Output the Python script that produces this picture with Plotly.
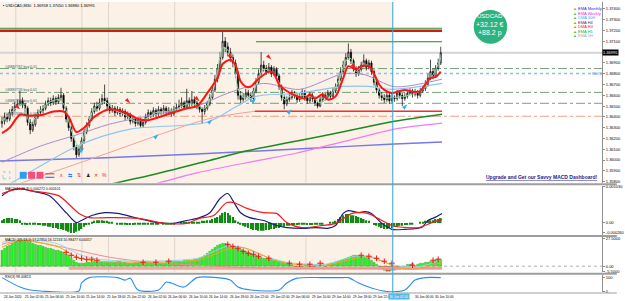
import plotly.graph_objects as go

# ---------------- data ----------------
idx = list(range(172))
time_labels = ["24 Jun 2020", "25 Jun 02:00", "25 Jun 06:00", "25 Jun 10:00", "25 Jun 14:00",
               "25 Jun 18:00", "25 Jun 22:00", "26 Jun 02:00", "26 Jun 06:00", "26 Jun 10:00",
               "26 Jun 14:00", "26 Jun 18:00", "26 Jun 22:00", "29 Jun 02:00", "29 Jun 06:00",
               "29 Jun 10:00", "29 Jun 14:00", "29 Jun 18:00", "29 Jun 22:00", "30 Jun 02:00",
               "30 Jun 06:00", "30 Jun 10:00"]
time_label_idx = [0, 8, 16, 24, 32, 40, 48, 56, 64, 72, 80, 88, 96, 104, 112, 120, 128, 136, 144, 152, 160, 168]

opens = [1.3634, 1.3636, 1.3640, 1.3638, 1.3644, 1.3647, 1.3650, 1.3652, 1.3655, 1.3651,
         1.3648, 1.3635, 1.3628, 1.3633, 1.3640, 1.3644, 1.3646, 1.3648, 1.3652, 1.3655,
         1.3653, 1.3657, 1.3654, 1.3658, 1.3660, 1.3648, 1.3638, 1.3630, 1.3620, 1.3612,
         1.3605, 1.3610, 1.3618, 1.3626, 1.3632, 1.3638, 1.3645, 1.3650, 1.3648, 1.3653,
         1.3657, 1.3655, 1.3650, 1.3646, 1.3648, 1.3644, 1.3647, 1.3643, 1.3645, 1.3640,
         1.3642, 1.3636, 1.3638, 1.3634, 1.3637, 1.3632, 1.3635, 1.3640, 1.3644, 1.3642,
         1.3646, 1.3643, 1.3647, 1.3645, 1.3648, 1.3644, 1.3646, 1.3643, 1.3647, 1.3649,
         1.3650, 1.3653, 1.3649, 1.3655, 1.3652, 1.3656, 1.3653, 1.3650, 1.3647, 1.3645,
         1.3648, 1.3652, 1.3658, 1.3665, 1.3675, 1.3685, 1.3695, 1.3710, 1.3705, 1.3700,
         1.3695, 1.3690, 1.3680, 1.3660, 1.3656, 1.3658, 1.3662, 1.3660, 1.3657, 1.3664,
         1.3672, 1.3680, 1.3688, 1.3685, 1.3682, 1.3686, 1.3680, 1.3684, 1.3678, 1.3668,
         1.3658, 1.3652, 1.3656, 1.3658, 1.3662, 1.3660, 1.3656, 1.3659, 1.3663, 1.3658,
         1.3655, 1.3660, 1.3657, 1.3653, 1.3650, 1.3656, 1.3660, 1.3658, 1.3662, 1.3659,
         1.3664, 1.3668, 1.3675, 1.3682, 1.3688, 1.3695, 1.3700, 1.3692, 1.3685, 1.3680,
         1.3684, 1.3688, 1.3692, 1.3686, 1.3690, 1.3682, 1.3672, 1.3665, 1.3660, 1.3658,
         1.3656, 1.3660, 1.3655, 1.3658, 1.3657, 1.3662, 1.3660, 1.3657, 1.3659, 1.3662,
         1.3664, 1.3661, 1.3663, 1.3660, 1.3664, 1.3666, 1.3670, 1.3676, 1.3682, 1.3678,
         1.3685, 1.3690]
highs = [1.3640, 1.3644, 1.3643, 1.3647, 1.3650, 1.3654, 1.3656, 1.3664, 1.3658, 1.3653,
         1.3650, 1.3638, 1.3636, 1.3643, 1.3647, 1.3650, 1.3651, 1.3655, 1.3658, 1.3658,
         1.3660, 1.3659, 1.3661, 1.3667, 1.3662, 1.3650, 1.3641, 1.3632, 1.3623, 1.3614,
         1.3613, 1.3621, 1.3629, 1.3635, 1.3641, 1.3648, 1.3653, 1.3654, 1.3657, 1.3661,
         1.3670, 1.3658, 1.3652, 1.3651, 1.3650, 1.3650, 1.3649, 1.3648, 1.3647, 1.3645,
         1.3644, 1.3641, 1.3640, 1.3640, 1.3639, 1.3638, 1.3643, 1.3647, 1.3646, 1.3649,
         1.3648, 1.3650, 1.3649, 1.3651, 1.3650, 1.3649, 1.3648, 1.3650, 1.3652, 1.3656,
         1.3658, 1.3655, 1.3666, 1.3658, 1.3664, 1.3659, 1.3655, 1.3652, 1.3649, 1.3651,
         1.3655, 1.3661, 1.3668, 1.3679, 1.3689, 1.3700, 1.3719, 1.3714, 1.3709, 1.3704,
         1.3698, 1.3693, 1.3682, 1.3664, 1.3662, 1.3666, 1.3665, 1.3663, 1.3667, 1.3676,
         1.3684, 1.3700, 1.3692, 1.3688, 1.3690, 1.3688, 1.3687, 1.3686, 1.3680, 1.3670,
         1.3660, 1.3659, 1.3662, 1.3665, 1.3664, 1.3662, 1.3662, 1.3666, 1.3665, 1.3660,
         1.3663, 1.3662, 1.3659, 1.3655, 1.3659, 1.3663, 1.3662, 1.3665, 1.3664, 1.3667,
         1.3671, 1.3678, 1.3686, 1.3692, 1.3699, 1.3708, 1.3703, 1.3694, 1.3687, 1.3687,
         1.3691, 1.3698, 1.3694, 1.3693, 1.3692, 1.3684, 1.3674, 1.3667, 1.3663, 1.3661,
         1.3663, 1.3662, 1.3661, 1.3660, 1.3665, 1.3664, 1.3662, 1.3662, 1.3665, 1.3667,
         1.3666, 1.3666, 1.3665, 1.3667, 1.3669, 1.3674, 1.3680, 1.3693, 1.3685, 1.3688,
         1.3694, 1.3705]
lows = [1.3630, 1.3633, 1.3635, 1.3636, 1.3641, 1.3645, 1.3648, 1.3650, 1.3648, 1.3644,
        1.3632, 1.3624, 1.3626, 1.3631, 1.3638, 1.3642, 1.3643, 1.3646, 1.3650, 1.3650,
        1.3651, 1.3651, 1.3652, 1.3655, 1.3646, 1.3635, 1.3627, 1.3617, 1.3609, 1.3601,
        1.3603, 1.3608, 1.3615, 1.3624, 1.3630, 1.3636, 1.3643, 1.3645, 1.3646, 1.3651,
        1.3652, 1.3647, 1.3643, 1.3644, 1.3641, 1.3642, 1.3640, 1.3641, 1.3637, 1.3638,
        1.3633, 1.3634, 1.3631, 1.3632, 1.3630, 1.3630, 1.3633, 1.3638, 1.3639, 1.3640,
        1.3640, 1.3641, 1.3642, 1.3643, 1.3641, 1.3642, 1.3640, 1.3641, 1.3645, 1.3647,
        1.3648, 1.3646, 1.3647, 1.3649, 1.3650, 1.3650, 1.3647, 1.3644, 1.3634, 1.3642,
        1.3646, 1.3650, 1.3656, 1.3663, 1.3672, 1.3682, 1.3693, 1.3700, 1.3696, 1.3691,
        1.3686, 1.3676, 1.3656, 1.3653, 1.3654, 1.3656, 1.3657, 1.3654, 1.3655, 1.3662,
        1.3670, 1.3678, 1.3682, 1.3679, 1.3680, 1.3677, 1.3678, 1.3675, 1.3665, 1.3655,
        1.3647, 1.3650, 1.3654, 1.3656, 1.3657, 1.3653, 1.3654, 1.3657, 1.3655, 1.3652,
        1.3653, 1.3654, 1.3650, 1.3648, 1.3649, 1.3654, 1.3655, 1.3656, 1.3656, 1.3657,
        1.3662, 1.3666, 1.3673, 1.3680, 1.3686, 1.3693, 1.3689, 1.3682, 1.3677, 1.3678,
        1.3682, 1.3686, 1.3683, 1.3684, 1.3679, 1.3669, 1.3662, 1.3657, 1.3655, 1.3653,
        1.3654, 1.3652, 1.3653, 1.3654, 1.3655, 1.3657, 1.3650, 1.3655, 1.3657, 1.3660,
        1.3658, 1.3659, 1.3657, 1.3658, 1.3662, 1.3664, 1.3668, 1.3674, 1.3675, 1.3676,
        1.3683, 1.3688]
closes = [1.3636, 1.3640, 1.3638, 1.3644, 1.3647, 1.3650, 1.3652, 1.3655, 1.3651, 1.3648,
          1.3635, 1.3628, 1.3633, 1.3640, 1.3644, 1.3646, 1.3648, 1.3652, 1.3655, 1.3653,
          1.3657, 1.3654, 1.3658, 1.3660, 1.3648, 1.3638, 1.3630, 1.3620, 1.3612, 1.3605,
          1.3610, 1.3618, 1.3626, 1.3632, 1.3638, 1.3645, 1.3650, 1.3648, 1.3653, 1.3657,
          1.3655, 1.3650, 1.3646, 1.3648, 1.3644, 1.3647, 1.3643, 1.3645, 1.3640, 1.3642,
          1.3636, 1.3638, 1.3634, 1.3637, 1.3632, 1.3635, 1.3640, 1.3644, 1.3642, 1.3646,
          1.3643, 1.3647, 1.3645, 1.3648, 1.3644, 1.3646, 1.3643, 1.3647, 1.3649, 1.3650,
          1.3653, 1.3649, 1.3655, 1.3652, 1.3656, 1.3653, 1.3650, 1.3647, 1.3645, 1.3648,
          1.3652, 1.3658, 1.3665, 1.3675, 1.3685, 1.3695, 1.3710, 1.3705, 1.3700, 1.3695,
          1.3690, 1.3680, 1.3660, 1.3656, 1.3658, 1.3662, 1.3660, 1.3657, 1.3664, 1.3672,
          1.3680, 1.3688, 1.3685, 1.3682, 1.3686, 1.3680, 1.3684, 1.3678, 1.3668, 1.3658,
          1.3652, 1.3656, 1.3658, 1.3662, 1.3660, 1.3656, 1.3659, 1.3663, 1.3658, 1.3655,
          1.3660, 1.3657, 1.3653, 1.3650, 1.3656, 1.3660, 1.3658, 1.3662, 1.3659, 1.3664,
          1.3668, 1.3675, 1.3682, 1.3688, 1.3695, 1.3700, 1.3692, 1.3685, 1.3680, 1.3684,
          1.3688, 1.3692, 1.3686, 1.3690, 1.3682, 1.3672, 1.3665, 1.3660, 1.3658, 1.3656,
          1.3660, 1.3655, 1.3658, 1.3657, 1.3662, 1.3660, 1.3657, 1.3659, 1.3662, 1.3664,
          1.3661, 1.3663, 1.3660, 1.3664, 1.3666, 1.3670, 1.3676, 1.3682, 1.3678, 1.3685,
          1.3690, 1.36995]

# axis labels (1.3700 is shown by the black current-price box instead)
price_ticks = [1.358, 1.359, 1.360, 1.361, 1.362, 1.363, 1.364, 1.365, 1.366, 1.367,
               1.368, 1.369, 1.371, 1.372, 1.373, 1.374]
current_price = 1.36995

# moving averages (candle index, price)
red_idx = [0, 3, 7, 11, 16, 20, 24, 26, 29, 32, 36, 42, 47, 50, 53, 57, 64, 68, 72, 76,
           80, 84, 86, 89, 91, 93, 95, 97, 99, 102, 104, 106, 108, 111, 115, 118, 120, 122, 125, 127,
           130, 133, 135, 138, 140, 143, 145, 147, 149, 152, 155, 157, 161, 163, 165, 167, 169, 171]
red_val = [1.3625, 1.3630, 1.3642, 1.3641, 1.3642, 1.3645, 1.3645, 1.3640, 1.3626, 1.3630,
           1.3640, 1.3647, 1.3645, 1.3642, 1.3638, 1.3637, 1.3642, 1.3645, 1.3648, 1.3650,
           1.3662, 1.3676, 1.3689, 1.3693, 1.3688, 1.3673, 1.3668, 1.3668, 1.3673, 1.3679,
           1.3682, 1.3680, 1.3670, 1.3664, 1.3659, 1.3657, 1.3661, 1.3657, 1.3661, 1.3656,
           1.3659, 1.3676, 1.3687, 1.3684, 1.3687, 1.3687, 1.3680, 1.3670, 1.3665, 1.3662,
           1.3664, 1.3665, 1.3663, 1.3664, 1.3670, 1.3676, 1.3677, 1.3682]
mint_idx = [0, 4, 8, 11, 14, 18, 22, 24, 27, 30, 33, 36, 40, 44, 48, 52, 56, 60, 64, 68,
            72, 76, 79, 82, 84, 86, 88, 90, 92, 94, 97, 100, 102, 105, 108, 110, 113, 117, 121, 124,
            128, 131, 134, 136, 138, 141, 144, 146, 149, 153, 157, 161, 164, 166, 168, 171]
mint_val = [1.3636, 1.3645, 1.3652, 1.3634, 1.3643, 1.3653, 1.3656, 1.3652, 1.3628, 1.3612,
            1.3630, 1.3648, 1.3654, 1.3646, 1.3642, 1.3636, 1.3638, 1.3644, 1.3645, 1.3647,
            1.3652, 1.3651, 1.3648, 1.3663, 1.3682, 1.3704, 1.3702, 1.3692, 1.3666, 1.3658,
            1.3659, 1.3676, 1.3684, 1.3682, 1.3672, 1.3656, 1.3660, 1.3660, 1.3658, 1.3653,
            1.3660, 1.3672, 1.3692, 1.3694, 1.3682, 1.3689, 1.3685, 1.3668, 1.3658, 1.3658,
            1.3659, 1.3662, 1.3665, 1.3674, 1.3679, 1.3695]
purple_idx = [0, 15, 30, 41.5, 57, 76, 88, 102, 116, 133, 141.5, 153, 171.5]
purple_val = [1.3598, 1.3613, 1.3624, 1.3633, 1.3641, 1.3650, 1.3662, 1.3671, 1.36655, 1.3680,
              1.3679, 1.3668, 1.3675]
lblue_idx = [0, 15, 31, 50, 80, 91.5, 99, 115, 133, 143, 152, 171.5]
lblue_val = [1.35735, 1.35946, 1.36149, 1.36287, 1.36351, 1.36498, 1.3659, 1.36618, 1.36682,
             1.36682, 1.36655, 1.3671]
salmon_idx = [0, 38, 80, 98.5]
salmon_val = [1.35726, 1.36038, 1.36379, 1.36452]
dma_h4_idx = [98.5, 171.5]
dma_h4_val = [1.36452, 1.36452]
dgreen_idx = [34, 43, 57, 80, 95, 115, 134, 153, 171.5]
dgreen_val = [1.35735, 1.35781, 1.35854, 1.35992, 1.36084, 1.36176, 1.36268, 1.3636, 1.36425]
magenta_idx = [53, 76, 99, 115, 134, 153, 171.5]
magenta_val = [1.35735, 1.35882, 1.35992, 1.36066, 1.36176, 1.36287, 1.36342]
monthly_idx = [-0.8, 38, 76, 115, 153, 171.5]
monthly_val = [1.35992, 1.3602, 1.36057, 1.36103, 1.36149, 1.36167]

# signal arrows
buy_arrow_idx = [32, 61, 82, 99, 113, 158]
buy_arrow_val = [1.36112, 1.36241, 1.36379, 1.36572, 1.3647, 1.36517]
sell_arrow_idx = [7, 50, 77, 90, 105, 138]
sell_arrow_val = [1.3647, 1.36526, 1.36544, 1.3694, 1.36931, 1.36848]

# horizontal levels
res_green_level = 1.37221
res_red_level = 1.37198
green_level = 1.37096
order_levels = [1.36848, 1.36627, 1.36526]
blue_level = 1.36802
tp_level = 1.36406
order_labels = ["#46887767 buy 0.01", "#46887733 buy 0.01", "#46887752 buy 0.01", "#46887698 buy 0.01"]
order_label_levels = [1.36848, 1.36627, 1.36526, 1.36406]

# MACD panel
macd_idx = [0, 3, 7, 11, 18.5, 25, 29, 31, 35, 40, 45, 53, 61, 67, 72, 77, 81, 85, 88, 90,
            93, 96.5, 102, 107, 111, 118.5, 122, 127, 130, 133, 135, 139, 141.5, 144, 148, 152,
            157, 163.5, 166, 168.5, 171.5]
macd_val = [0.00077, 0.00091, 0.00097, 0.00091, 0.00077, 0.00029, 0.00001, 0.00007, 0.00021, 0.00029,
            0.00027, 0.00013, 0.00001, -0.00001, 0.00007, 0.00015, 0.00029, 0.00069, 0.00083, 0.00063,
            0.00029, 0.00015, 0.00007, -0.00007, -0.00013, -0.00015, -0.00013, -0.00015, -0.00007,
            0.00027, 0.00035, 0.00029, 0.00032, 0.00027, -0.00001, -0.00018, -0.00018, -0.00013,
            0.00007, 0.00015, 0.00027]
signal_idx = [0, 7, 11, 22, 30, 34, 41.5, 53, 63.5, 72, 77, 82.5, 87.5, 90.5, 95.5, 102, 107,
              111, 117, 125, 130, 136.5, 142.5, 146.5, 152, 158, 162.5, 167.5, 171.5]
signal_val = [0.00083, 0.00097, 0.00091, 0.00077, 0.00027, 0.00015, 0.00015, 0.00013, -0.00001,
              -0.00001, 0.00013, 0.00021, 0.00057, 0.00057, 0.00041, 0.00029, 0.00027, 0.00001,
              -0.00013, -0.00007, -0.00001, 0.00027, 0.00027, 0.00013, -0.00007, -0.00013,
              -0.00013, 0.00001, 0.0001]
macd_hist = [0.00008, 0.00011, 0.00014, 0.00014, 0.00014, 0.00011, 0.00011, 0.00008,
             -0.00003, -0.00003, -0.00006, -0.00003, -0.00003,
             -0.00003, -0.00006, -0.00006, -0.00008,
             -0.00008, -0.00011, -0.00011, -0.00014, -0.00014, -0.00017, -0.00017, -0.0002,
             -0.00022, -0.00025, -0.00028, -0.00028, -0.00025, -0.00022, -0.00017,
             -0.00011, -0.00006, -0.00003, 0.00003,
             0.00006, 0.00008, 0.00008, 0.00008, 0.00006, 0.00006,
             0.00003, 0.00003, 0.0, -0.00003, -0.00003, -0.00003, -0.00003, -0.00006, -0.00006,
             -0.00006, -0.00003, -0.00003,
             -0.00003, -0.00003, -0.00003, -0.00003, -0.00003, -0.00003, -0.00003, -0.00003, 0.0,
             -0.00003, -0.00003, -0.00003, -0.00003, -0.00003, 0.0, 0.0, 0.00003, 0.00003, 0.00003,
             0.00003, 0.00003, 0.00003, 0.00003,
             0.00003, 0.00006, 0.00006, 0.00008, 0.00008, 0.00011, 0.00014,
             0.00017, 0.00022, 0.00028, 0.00031, 0.00028, 0.00022, 0.00017,
             0.00008, 0.00003, -0.00003, -0.00008, -0.00011, -0.00014, -0.00017, -0.0002, -0.0002,
             -0.00022, -0.00022, -0.00022, -0.0002, -0.0002, -0.00017, -0.00017, -0.00014, -0.00014,
             -0.00011, -0.00011,
             -0.00008, -0.00008, -0.00006, -0.00006, -0.00006, -0.00003, -0.00003, -0.00003, -0.00006,
             -0.00006, -0.00006, -0.00003, -0.00003, -0.00003, -0.00003, 0.0, 0.0, 0.00003, 0.00003,
             0.00006, 0.00011, 0.00017, 0.00022, 0.00025, 0.00025, 0.00022, 0.00022, 0.0002, 0.00017,
             0.00014, 0.00011, 0.00008, 0.00006,
             0.0, -0.00006, -0.00008, -0.00011, -0.00014, -0.00017, -0.00017, -0.00014, -0.00014,
             -0.00011, -0.00011, -0.00008, -0.00008, -0.00006,
             -0.00006, -0.00003, -0.00003, 0.0, 0.0, 0.00003,
             0.00003, 0.00006, 0.00006, 0.00008, 0.00008, 0.00011, 0.00011, 0.00014]
macd_ticks = [-0.00026, 0.0, 0.00103]
macd_tick_text = ["-0.000260", "0.00", "0.001030"]

# second oscillator panel
osc_hist = [16, 18, 20, 21,
            23, 24, 25, 26, 26, 26, 25, 24,
            23, 22, 21, 21, 20, 19, 18, 18,
            17, 16, 16, 15, 14, 12, 11,
            8, 6, 4, 3,
            3, 3, 4, 4, 4, 5, 5, 5, 4, 4, 4, 4,
            4, 4, 5, 5, 4, 4, 3, 3, 3, 4, 4, 4, 5, 5, 5, 4, 4, 3, 3, 3, 3, 4, 4, 4, 5, 5, 5, 5,
            6, 6, 6, 6, 7, 7,
            8, 9, 11, 13, 15, 17, 19,
            21, 22, 23, 23, 22,
            21, 20, 19, 18, 17, 16, 15,
            14, 13, 12, 11, 10, 9, 8, 8,
            7, 7, 6, 6, 5, 5, 4,
            3, 2, 2, -2, -3, -3, -2, 2, 2, -2, -3, -2, 2, 2, 3, -2, 2, 3, 3,
            4, 5, 6, 7, 8, 9, 10, 11, 11, 11, 10, 10, 9, 8,
            6, 4, 2, -2,
            -3, -4, -5, -5, -4, -4, -3, -3, -2, -2,
            2, 2, 3, -2, 2, 3,
            3, 4, 4, 5, 5, 6, 7, 7]
osc_line_idx = [0, 6.9, 14.6, 22.3, 30, 37.7, 56.9, 76.2, 81.9, 87.7, 93.5, 99.2, 105, 110.8,
                118.5, 126.2, 131.9, 137.7, 143.5, 149.2, 155, 160.8, 166.5, 171.5]
osc_orange = [19, 26, 24, 19, 8, 5, 4, 6, 11, 17, 19, 14, 7, 3, 1, 1, 4, 8, 9, 4, -2, -3, 0, 4]
osc_lblue = [24, 27, 26, 22, 12, 7, 5, 8, 14, 20, 19, 13, 8, 4, 2, 2, 6, 10, 10, 4, 0, -1, 2, 7]
osc_salmon_idx = [0, 7, 22, 42, 57, 76, 90, 110, 171.5]
osc_salmon = [22, 26, 20, 9, 4, 1, -1, -2, -2]
osc_band_idx = [26, 171.5]
osc_band = [-2.2, -2.2]
cross_idx = [25, 27, 29, 31, 33, 35, 37, 55, 60, 65, 88, 90, 92, 94, 96, 98, 100, 104, 112, 116,
             120, 124, 140, 143, 146, 149, 152, 160, 168, 170]
cross_val = [14, 11, 9, 8, 7, 7, 6, 4, 4, 5, 22, 20, 18, 15, 13, 12, 10, 8, 3, 2,
             2, 3, 11, 10, 8, 5, 3, 1, 6, 7]
osc_ticks = [-5.5, 0, 27.5]
osc_tick_text = ["-5.5000", "0.00", "27.5000"]

# third panel (0..100 oscillator)
rsi_idx = [0, 7, 11, 15, 30, 31, 34, 45, 48, 50, 53, 61, 64, 66, 71, 76, 84, 89, 92, 97,
           108, 111, 115, 125, 133, 135, 139, 144, 150, 157, 161, 165, 171]
rsi_val = [100, 32, 11, 4, 4, 61, 100, 100, 82, 96, 11, 11, 68, 61, 32, 100, 100, 82, 32, 11,
           11, 61, 96, 100, 100, 100, 61, 25, 0, 11, 82, 100, 100]

legend_names = ["EMA Monthly", "EMA Weekly", "DMA 30H", "EMA H4", "DMA H4", "EMA H1", "EMA 5H"]
legend_colors = ["#2626E8", "#F022F0", "#3FA9F5", "#6A1B6A", "#F02020", "#19B319", "#A8A8A8"]

# ---------------- layout helpers (pixel -> paper) ----------------
PW, PH = 610.0, 292.0
def px(x):
    return x / PW
def py(y):
    return (PH - y) / PH

FONT = "Liberation Sans, Arial, sans-serif"
fig = go.Figure()

# ---- main panel traces ----
fig.add_trace(go.Candlestick(
    x=idx, open=opens, high=highs, low=lows, close=closes, xaxis="x", yaxis="y",
    increasing=dict(line=dict(color="#000000", width=0.7), fillcolor="#FFFFFF"),
    decreasing=dict(line=dict(color="#000000", width=0.7), fillcolor="#000000"),
    whiskerwidth=0, hoverinfo="skip", showlegend=False))

def line(xs, ys, color, width, yaxis="y", shape="spline", dash="solid"):
    if shape == "spline":
        ln = dict(color=color, width=width, shape="spline", smoothing=0.8, dash=dash)
    else:
        ln = dict(color=color, width=width, dash=dash)
    fig.add_trace(go.Scatter(x=xs, y=ys, mode="lines", yaxis=yaxis, xaxis="x", line=ln,
                             hoverinfo="skip", showlegend=False))

line(monthly_idx, monthly_val, "#7878E6", 1.5)
line(magenta_idx, magenta_val, "#F27AF2", 1.2)
line(dgreen_idx, dgreen_val, "#1F8A1F", 1.5)
line(salmon_idx, salmon_val, "#F2A29A", 1.0)
line(dma_h4_idx, dma_h4_val, "#FF2A2A", 1.6, shape="linear")
line(lblue_idx, lblue_val, "#8CC6F0", 1.2)
line(purple_idx, purple_val, "#A88CCB", 1.0)
line(mint_idx, mint_val, "#8EE0A6", 1.0)
line(red_idx, red_val, "#FF1414", 2.0)

fig.add_trace(go.Scatter(x=buy_arrow_idx, y=buy_arrow_val, mode="markers", xaxis="x", yaxis="y",
                         marker=dict(symbol="arrow", angle=45, size=6, color="#27B4F5"),
                         hoverinfo="skip", showlegend=False))
fig.add_trace(go.Scatter(x=sell_arrow_idx, y=sell_arrow_val, mode="markers", xaxis="x", yaxis="y",
                         marker=dict(symbol="arrow", angle=135, size=6, color="#F52020"),
                         hoverinfo="skip", showlegend=False))

# ---- MACD panel ----
fig.add_trace(go.Bar(x=idx, y=macd_hist, xaxis="x", yaxis="y2", width=0.6,
                     marker=dict(color="#138A13", line=dict(width=0)),
                     hoverinfo="skip", showlegend=False))
line(macd_idx, macd_val, "#1C1C7A", 1.2, yaxis="y2")
line(signal_idx, signal_val, "#F21C1C", 1.2, yaxis="y2")

# ---- oscillator panel ----
osc_colors = ["#2EF02E" if v > 0 else "#F53A3A" for v in osc_hist]
fig.add_trace(go.Bar(x=idx, y=osc_hist, xaxis="x", yaxis="y3", width=0.8,
                     marker=dict(color=osc_colors, line=dict(width=0.3, color="#139A13")),
                     hoverinfo="skip", showlegend=False))
line(osc_band_idx, osc_band, "#F5A5A0", 3, yaxis="y3", shape="linear")
line(osc_salmon_idx, osc_salmon, "#F08C8C", 1.0, yaxis="y3")
line(osc_line_idx, osc_lblue, "#9AD3EE", 1.0, yaxis="y3")
line(osc_line_idx, osc_orange, "#FFA020", 1.0, yaxis="y3")
fig.add_trace(go.Scatter(x=cross_idx, y=cross_val, mode="markers", xaxis="x", yaxis="y3",
                         marker=dict(symbol="cross-thin", size=4, line=dict(color="#F01818", width=1)),
                         hoverinfo="skip", showlegend=False))

# ---- third panel ----
line(rsi_idx, rsi_val, "#2D8CF0", 1.1, yaxis="y4")

# ---------------- shapes ----------------
shapes = []
shapes.append(dict(type="rect", xref="paper", yref="paper", x0=0, x1=px(398), y0=py(182), y1=py(0),
                   fillcolor="#FBF1E7", line=dict(width=0), layer="below"))
shapes.append(dict(type="rect", xref="paper", yref="paper", x0=0, x1=px(398), y0=py(272), y1=py(237),
                   fillcolor="#FBF1E7", line=dict(width=0), layer="below"))
for gx in [16, 83, 110, 177, 310]:
    shapes.append(dict(type="line", xref="paper", yref="paper", x0=px(gx), x1=px(gx), y0=py(182), y1=py(0),
                       line=dict(color="#DCD6D0", width=1), layer="below"))
    shapes.append(dict(type="line", xref="paper", yref="paper", x0=px(gx), x1=px(gx), y0=py(272), y1=py(237),
                       line=dict(color="#DCD6D0", width=1), layer="below"))
shapes.append(dict(type="line", xref="paper", yref="y", x0=0, x1=1, y0=current_price, y1=current_price,
                   line=dict(color="#D4D4D4", width=2), layer="below"))
for lv in order_levels:
    shapes.append(dict(type="line", xref="paper", yref="y", x0=0, x1=1, y0=lv, y1=lv,
                       line=dict(color="#78A078", width=1, dash="dashdot"), layer="below"))
shapes.append(dict(type="line", xref="paper", yref="y", x0=0, x1=1, y0=blue_level, y1=blue_level,
                   line=dict(color="#84C4F0", width=1.4, dash="dot"), layer="below"))
shapes.append(dict(type="line", xref="paper", yref="y", x0=0, x1=1, y0=tp_level, y1=tp_level,
                   line=dict(color="#F0A088", width=1, dash="dashdot"), layer="below"))
shapes.append(dict(type="line", xref="x", yref="y", x0=-0.77, x1=171.5, y0=res_green_level, y1=res_green_level,
                   line=dict(color="#2A9A2A", width=1)))
shapes.append(dict(type="line", xref="x", yref="y", x0=-0.77, x1=171.5, y0=res_red_level, y1=res_red_level,
                   line=dict(color="#D81818", width=2.6)))
shapes.append(dict(type="line", xref="x", yref="y", x0=99, x1=171.5, y0=green_level, y1=green_level,
                   line=dict(color="#1C8C1C", width=1.2)))
shapes.append(dict(type="line", xref="paper", yref="y3", x0=0, x1=1, y0=0, y1=0,
                   line=dict(color="#B0B0B0", width=1, dash="dot"), layer="below"))
for sy in [183.5, 235.5, 273.5]:
    shapes.append(dict(type="line", xref="paper", yref="paper", x0=0, x1=625 / PW, y0=py(sy), y1=py(sy),
                       line=dict(color="#9E9E9E", width=2)))
shapes.append(dict(type="line", xref="paper", yref="paper", x0=0, x1=625 / PW, y0=py(293), y1=py(293),
                   line=dict(color="#9E9E9E", width=1)))
shapes.append(dict(type="line", xref="paper", yref="paper", x0=px(398), x1=px(398), y0=py(293), y1=py(0),
                   line=dict(color="#2EA6E0", width=1)))
shapes.append(dict(type="circle", xref="paper", yref="paper", x0=px(480), x1=px(514), y0=py(42), y1=py(8),
                   fillcolor="#2DB37E", line=dict(width=0)))
shapes.append(dict(type="rect", xref="paper", yref="paper", x0=px(3), x1=px(10), y0=py(178), y1=py(171),
                   line=dict(color="#8CC8F0", width=1, dash="dot")))
shapes.append(dict(type="rect", xref="paper", yref="paper", x0=px(20), x1=px(27), y0=py(178), y1=py(171),
                   fillcolor="#2A9DF4", line=dict(width=0)))
shapes.append(dict(type="rect", xref="paper", yref="paper", x0=px(28.5), x1=px(35.5), y0=py(178), y1=py(171),
                   fillcolor="#F54D7E", line=dict(width=0)))
shapes.append(dict(type="rect", xref="paper", yref="paper", x0=px(37), x1=px(44), y0=py(178), y1=py(171),
                   fillcolor="#F54D7E", line=dict(width=0)))
shapes.append(dict(type="line", xref="paper", yref="paper", x0=px(46), x1=px(58), y0=py(173), y1=py(173),
                   line=dict(color="#F02020", width=1, dash="dash")))
shapes.append(dict(type="line", xref="paper", yref="paper", x0=px(46), x1=px(58), y0=py(176.5), y1=py(176.5),
                   line=dict(color="#2060F0", width=1, dash="dash")))

# ---------------- annotations ----------------
ann = []
def text(x, y, t, size=4, color="#000000", xanchor="left", xref="paper", yref="paper", **kw):
    ann.append(dict(x=x, y=y, xref=xref, yref=yref, text=t, showarrow=False, xanchor=xanchor,
                    yanchor="middle", font=dict(size=size, color=color, family=FONT), **kw))

text(px(1), py(3.5), "▪ USDCAD,M30  1.36958 1.37050 1.36880 1.36995", size=4)
for lbl, lv in zip(order_labels, order_label_levels):
    text(px(3), lv, lbl, size=3.5, color="#555555", yref="y", yshift=2)
text(px(598), blue_level, "80.0%", size=3.5, color="#3A86E8", yref="y")
for i, (nm, col) in enumerate(zip(legend_names, legend_colors)):
    text(px(579), py(7 + 4.5 * i),
         '<span style="color:#33CC33">▲</span> <span style="color:%s">%s</span>' % (col, nm), size=4)
text(px(497), py(14), "USDCAD", size=6, color="#FFFFFF", xanchor="center")
text(px(497), py(22.5), "+32.12 €", size=7, color="#FFFFFF", xanchor="center")
text(px(497), py(31), "+88.2 p", size=7, color="#FFFFFF", xanchor="center")
text(px(607), py(176), "<b><u>Upgrade and Get our Savvy MACD Dashboard!</u></b>", size=5,
     color="#1C1C8C", xanchor="right")
for sx, sym, col in [(62, "ʌ", "#F02020"), (71, "⇆", "#2A7CF0"), (80, "⇅", "#F02020"),
                     (89, "♟", "#222222"), (97, "✕", "#F02020"), (106, "%", "#F02020")]:
    text(px(sx), py(174.5), sym, size=5, color=col, xanchor="center")
text(px(3), py(188), "MACD(12,26,9) 0.000272 0.000101", size=3.5)
text(px(3), py(239.5), "MACD_2(5,13,1) 17.27950 16.12243 10.98477 6.04457", size=3.5)
text(px(3), py(277), "RSI(3) 98.40813", size=3.5)
ann.append(dict(x=1.0, y=current_price, xref="paper", yref="y", text="1.36995", showarrow=False,
                xanchor="left", yanchor="middle", bgcolor="#000000", borderpad=0,
                font=dict(size=4, color="#FFFFFF", family=FONT)))
for ti, tl in zip(time_label_idx, time_labels):
    if ti == 152:
        continue
    text(ti, py(297), tl, size=3.2, xref="x")
ann.append(dict(x=px(404), y=py(297), xref="paper", yref="paper", text="30 Jun 02:00", showarrow=False,
                xanchor="center", yanchor="middle", bgcolor="#55B6E8", borderpad=0.5,
                font=dict(size=3.2, color="#FFFFFF", family=FONT)))

axis_common = dict(side="right", anchor="x", showgrid=False, zeroline=False, showline=True,
                   linecolor="#909090", linewidth=1, ticks="outside", ticklen=2, tickcolor="#909090",
                   tickfont=dict(size=4, color="#000000", family=FONT), fixedrange=True)

fig.update_layout(
    width=625, height=301,
    margin=dict(l=0, r=15, t=0, b=9),
    paper_bgcolor="#FFFFFF", plot_bgcolor="rgba(0,0,0,0)",
    showlegend=False, bargap=0.3,
    font=dict(family=FONT, size=4, color="#000000"),
    xaxis=dict(range=[-0.77, 233.85], domain=[0, 1], anchor="y4", showgrid=False, zeroline=False,
               showticklabels=False, ticks="", showline=False, rangeslider=dict(visible=False),
               fixedrange=True),
    yaxis=dict(domain=[py(182), 1], range=[1.357901, 1.374644], tickvals=price_ticks,
               tickformat=".5f", **axis_common),
    yaxis2=dict(domain=[py(234.5), py(185)], range=[-0.000336, 0.00105], tickvals=macd_ticks,
                ticktext=macd_tick_text, **axis_common),
    yaxis3=dict(domain=[py(272), py(237)], range=[-6, 29], tickvals=osc_ticks,
                ticktext=osc_tick_text, **axis_common),
    yaxis4=dict(domain=[0, py(275)], range=[-3.6, 117.9], tickvals=[0, 100],
                ticktext=["0", "100"], **axis_common),
    shapes=shapes,
    annotations=ann,
)

fig.write_html("out.html")
